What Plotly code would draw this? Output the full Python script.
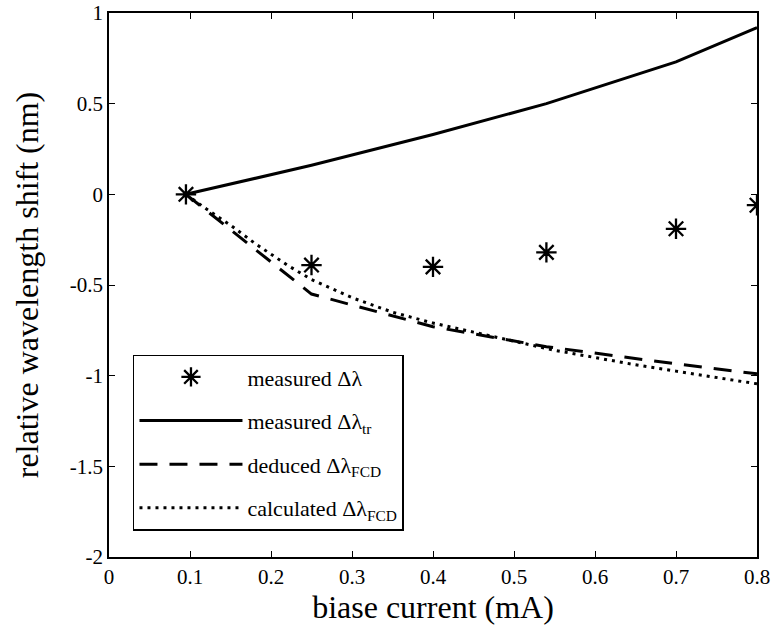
import plotly.graph_objects as go

# measured Δλ (stars)
meas_x = [0.095, 0.25, 0.40, 0.54, 0.70, 0.80]
meas_y = [0.0, -0.39, -0.40, -0.32, -0.19, -0.06]

# measured Δλ_tr (solid)
tr_x = [0.095, 0.25, 0.40, 0.54, 0.70, 0.80]
tr_y = [0.0, 0.16, 0.33, 0.50, 0.73, 0.92]

# deduced Δλ_FCD (dashed)
ded_x = [0.095, 0.25, 0.40, 0.54, 0.70, 0.80]
ded_y = [0.0, -0.55, -0.73, -0.84, -0.935, -0.99]

# calculated Δλ_FCD (dotted)
calc_x = [0.095, 0.12, 0.15, 0.18, 0.20, 0.22, 0.25, 0.30, 0.35, 0.40, 0.45,
          0.50, 0.55, 0.60, 0.65, 0.70, 0.75, 0.80]
calc_y = [0.0, -0.08, -0.17, -0.27, -0.33, -0.39, -0.47, -0.57, -0.65, -0.71, -0.76,
          -0.81, -0.86, -0.90, -0.94, -0.975, -1.01, -1.045]

x_ticks = [0, 0.1, 0.2, 0.3, 0.4, 0.5, 0.6, 0.7, 0.8]
x_ticklabels = ["0", "0.1", "0.2", "0.3", "0.4", "0.5", "0.6", "0.7", "0.8"]
y_ticks = [-2, -1.5, -1, -0.5, 0, 0.5, 1]
y_ticklabels = ["-2", "-1.5", "-1", "-0.5", "0", "0.5", "1"]

FONT = "Liberation Serif"

fig = go.Figure()
fig.add_trace(go.Scatter(
    x=meas_x, y=meas_y, mode="markers", name="measured Δλ", legendgroup="a",
    marker=dict(symbol="asterisk-open", size=17, color="black",
                line=dict(color="black", width=2.3)),
))
fig.add_trace(go.Scatter(
    x=tr_x, y=tr_y, mode="lines", name="measured Δλ<sub>tr</sub>", legendgroup="b",
    line=dict(color="black", width=3),
))
fig.add_trace(go.Scatter(
    x=ded_x, y=ded_y, mode="lines", name="deduced Δλ<sub>FCD</sub>", legendgroup="c",
    line=dict(color="black", width=3, dash="18px,12px"),
))
fig.add_trace(go.Scatter(
    x=calc_x, y=calc_y, mode="lines", name="calculated Δλ<sub>FCD</sub>", legendgroup="d",
    line=dict(color="black", width=3, dash="3px,5px"),
))

axis_common = dict(
    showgrid=False, zeroline=False, showline=True, linecolor="black", linewidth=1.5,
    mirror="ticks", ticks="inside", ticklen=6, tickwidth=1.2, tickcolor="black",
    tickfont=dict(family=FONT, size=21, color="black"),
    ticklabeloverflow="allow",
)

fig.update_layout(
    width=771, height=635,
    margin=dict(l=109, r=14, t=13, b=78),
    paper_bgcolor="white", plot_bgcolor="white",
    font=dict(family=FONT, color="black"),
    xaxis=dict(range=[0, 0.8], tickvals=x_ticks, ticktext=x_ticklabels,
               title=dict(text="biase current (mA)", font=dict(family=FONT, size=32), standoff=7),
               automargin=False, **axis_common),
    yaxis=dict(range=[-2, 1], tickvals=y_ticks, ticktext=y_ticklabels,
               title=dict(text="relative wavelength shift (nm)", font=dict(family=FONT, size=32), standoff=22),
               automargin=False, **axis_common),
    showlegend=True,
    legend=dict(
        x=0.037, y=0.372, xanchor="left", yanchor="top",
        bgcolor="white", bordercolor="black", borderwidth=1.5,
        font=dict(family=FONT, size=22, color="black"),
        traceorder="grouped", tracegroupgap=12, itemwidth=103,
    ),
)

fig.write_html("out.html",
               config={"displayModeBar": False},
               post_script="document.body.style.margin='0';document.body.style.padding='0';")
